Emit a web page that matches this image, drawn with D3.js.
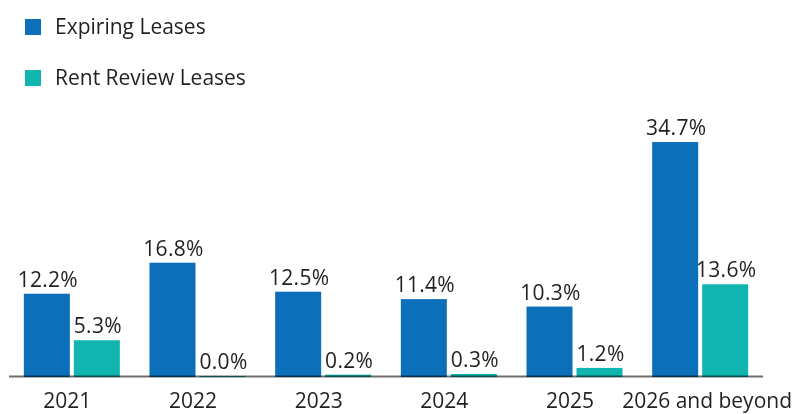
<!DOCTYPE html>
<html><head><meta charset="utf-8">
<script src="https://cdn.jsdelivr.net/npm/d3@7"></script>
<style>
body{margin:0;background:#fff;}
svg{display:block;font-family:"Open Sans","Noto Sans",sans-serif;}
</style></head>
<body><svg id="c" width="796" height="414"></svg>
<script>
const categories = ["2021","2022","2023","2024","2025","2026 and beyond"];
const seriesNames = ["Expiring Leases","Rent Review Leases"];
const expiring = [12.2,16.8,12.5,11.4,10.3,34.7];
const rentReview = [5.3,0.0,0.2,0.3,1.2,13.6];
const colors = ["#0b6fba","#10b5b0"];

const W=796,H=414;
const svg=d3.select("#c");
const y0=376;
const x=d3.scaleBand().domain(categories).range([9,763]).padding(0);
const inner=d3.scaleBand().domain(seriesNames).range([0,96]).paddingInner(0.08);
const y=d3.scaleLinear().domain([0,34.7]).range([y0,142]);
const series=[expiring,rentReview];
const textColor="#231f20";

const g=svg.append("g");
categories.forEach((c,i)=>{
  const cx=x(c)+x.bandwidth()/2-48;
  seriesNames.forEach((s,j)=>{
    const v=series[j][i];
    const bx=cx+inner(s);
    g.append("rect").attr("x",bx).attr("y",y(v)).attr("width",inner.bandwidth())
      .attr("height",y0-y(v)+1).attr("fill",colors[j]);
    g.append("text").attr("x",bx+inner.bandwidth()/2+1).attr("y",y(v)-7)
      .attr("text-anchor","middle").attr("font-size",21).attr("letter-spacing",0.3).attr("fill",textColor)
      .text(v.toFixed(1)+"%");
  });
});
svg.append("line").attr("x1",x.range()[0]).attr("x2",x.range()[1]).attr("y1",y0+0.5).attr("y2",y0+0.5)
  .attr("stroke","#6f6f6f").attr("stroke-width",2).style("mix-blend-mode","multiply");

categories.forEach((c,i)=>{
  const t=svg.append("text").attr("y",408).attr("font-size",21).attr("fill",textColor)
    .attr("text-anchor","middle").text(c);
  const w=t.node().getComputedTextLength();
  let cx=x(c)+x.bandwidth()/2-4.5;
  if(i===categories.length-1) cx=W-4-w/2;
  t.attr("x",cx);
});

seriesNames.forEach((s,j)=>{
  const ly=19+j*51;
  svg.append("rect").attr("x",25).attr("y",ly).attr("width",16).attr("height",16).attr("fill",colors[j]);
  svg.append("text").attr("x",55).attr("y",ly+15).attr("font-size",21).attr("fill",textColor).text(s);
});
</script></body></html>
